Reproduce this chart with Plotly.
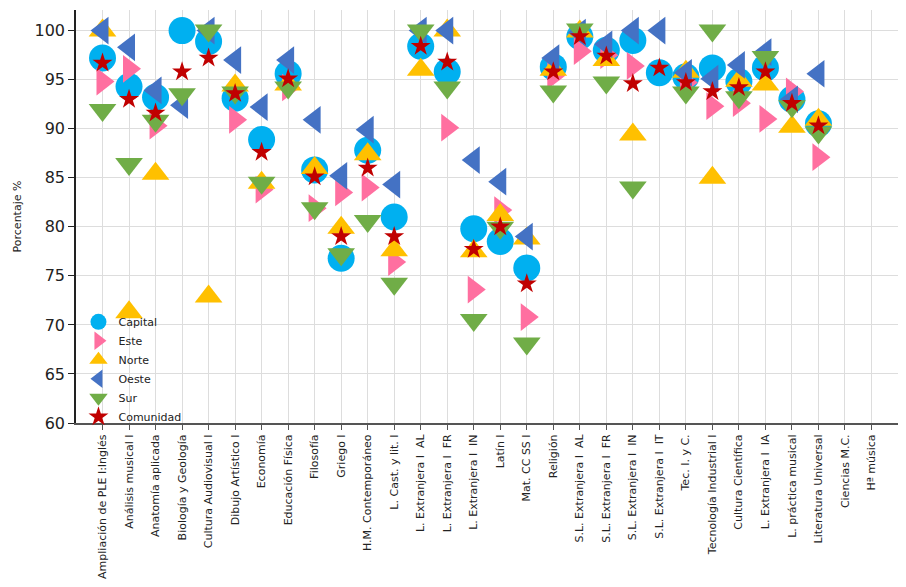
import plotly.graph_objects as go

asignaturas = [
    "Ampliación de PLE I:Inglés", "Análisis musical I", "Anatomía aplicada",
    "Biología y Geología", "Cultura Audiovisual I", "Dibujo Artístico I",
    "Economía", "Educación Física", "Filosofía", "Griego I",
    "H.M. Contemporáneo", "L. Cast. y lit. I", "L. Extranjera I  AL",
    "L. Extranjera I  FR", "L. Extranjera I  IN", "Latín I", "Mat. CC SS I",
    "Religión", "S.L. Extranjera I  AL", "S.L. Extranjera I  FR",
    "S.L. Extranjera I  IN", "S.L. Extranjera I  IT", "Tec. I. y C.",
    "Tecnología Industrial I", "Cultura Científica", "L. Extranjera I  IA",
    "L. práctica musical", "Literatura Universal", "Ciencias M.C.", "Hª música",
]

capital = [97.2, 94.3, 93.2, 100.0, 98.9, 93.1, 88.9, 95.6, 85.8, 76.8,
           87.8, 81.0, 98.4, 95.8, 79.8, 78.5, 75.8, 96.3, 99.4, 98.0,
           99.0, 95.7, 95.3, 96.2, 94.8, 96.2, 93.0, 90.5, None, None]
este = [94.8, 96.1, 90.3, None, None, 90.9, 83.8, 94.2, 81.9, 83.5,
        84.0, 76.4, None, 90.1, 73.6, 81.7, 70.8, 95.4, 97.9, 97.5,
        96.4, None, 94.7, 92.3, 92.6, 91.0, 93.8, 87.1, None, None]
norte = [100.0, 71.3, 85.4, None, 72.9, 94.4, 84.5, 94.5, 86.0, 79.9,
         87.4, 77.6, 96.0, 100.0, 77.5, 81.2, 78.8, 96.0, 99.9, 97.0,
         89.4, None, 95.8, 85.0, 94.9, 94.5, 90.2, 90.9, None, None]
oeste = [100.0, 98.3, 93.9, 92.4, 100.0, 97.0, 92.2, 97.0, 90.9, 85.2,
         89.9, 84.3, 100.0, 100.0, 86.8, 84.6, 79.0, 97.2, 99.8, 98.6,
         100.0, 100.0, 95.7, 95.1, 96.5, 97.8, 93.0, 95.6, None, None]
sur = [91.9, 86.4, 90.8, 93.5, 100.0, 93.7, 84.5, 94.2, 81.9, 77.2,
       80.6, 74.2, 100.0, 94.2, 70.5, 79.9, 68.1, 93.8, 100.1, 94.7,
       84.0, None, 93.7, 100.0, 93.2, 97.3, 92.3, 89.6, None, None]
comunidad = [96.7, 93.0, 91.6, 95.8, 97.2, 93.6, 87.6, 95.1, 85.1, 79.0,
             86.0, 79.0, 98.4, 96.8, 77.7, 80.0, 74.2, 95.8, 99.4, 97.4,
             94.6, 96.2, 94.7, 93.8, 94.2, 95.8, 92.6, 90.3, None, None]

series = [
    ("Capital", capital, "circle", "#00B0F0", 27),
    ("Este", este, "triangle-right", "#FF6FA0", 24),
    ("Norte", norte, "triangle-up", "#FFC000", 24),
    ("Oeste", oeste, "triangle-left", "#4472C4", 24),
    ("Sur", sur, "triangle-down", "#70AD47", 24),
    ("Comunidad", comunidad, "star", "#C00000", 15),
]

fig = go.Figure()
for nombre, valores, simbolo, color, tam in series:
    fig.add_trace(go.Scatter(
        x=asignaturas, y=valores, name=nombre, mode="markers",
        marker=dict(symbol=simbolo, color=color, size=tam, line=dict(width=0)),
    ))

# the page body adds an 8px margin, so the figure is 8px smaller
fig.update_layout(
    width=898, height=579,
    margin=dict(l=68, r=8, t=2, b=164),
    plot_bgcolor="white", paper_bgcolor="white",
    font=dict(family="DejaVu Sans", color="#222"),
    legend=dict(x=0.003, y=0.28, xanchor="left", yanchor="top",
                bgcolor="rgba(0,0,0,0)", font=dict(size=11), tracegroupgap=0),
)
fig.update_xaxes(
    type="category", range=[-1, 30], tickangle=-90, automargin=False,
    tickfont=dict(size=11), showgrid=True, gridcolor="#dddddd", gridwidth=1,
    showline=True, linecolor="#555555", linewidth=2,
    ticks="outside", ticklen=5, tickcolor="#555555",
)
fig.update_yaxes(
    range=[60, 102.1], dtick=5, tickfont=dict(size=16), automargin=False,
    title=dict(text="Porcentaje %", font=dict(size=11), standoff=11),
    showgrid=True, gridcolor="#dddddd", gridwidth=1, zeroline=False,
    showline=True, linecolor="#222222", linewidth=1.5,
    ticks="outside", ticklen=6, tickcolor="#222222",
)

fig.write_html("out.html")
